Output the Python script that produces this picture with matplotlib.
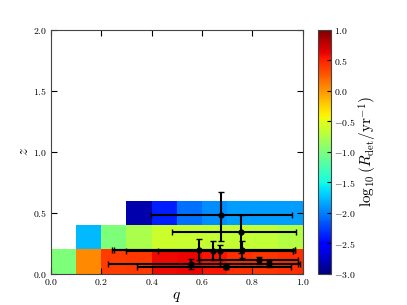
import matplotlib
matplotlib.use('Agg')
import matplotlib.pyplot as plt
import numpy as np
from matplotlib.ticker import FuncFormatter

plt.rcParams['mathtext.fontset'] = 'cm'
plt.rcParams['font.family'] = 'serif'
plt.rcParams['font.serif'] = ['DejaVu Serif']

# bin edges
q_edges = [0.0, 0.1, 0.2, 0.3, 0.4, 0.5, 0.6, 0.7, 0.8, 0.9, 1.0]
z_edges = [0.0, 0.2, 0.4, 0.6, 0.8, 1.0, 1.2, 1.4, 1.6, 1.8, 2.0]

# log10 detection rate per (z, q) bin, nan = empty
rate_z0 = [-1.0, 0.06, 0.38, 0.40, 0.60, 0.62, 0.55, 0.45, 0.42, 0.45]
rate_z1 = [np.nan, -1.78, -1.0, -0.78, -0.62, -0.64, -0.65, -0.65, -0.67, -0.72]
rate_z2 = [np.nan, np.nan, np.nan, -2.83, -2.38, -2.06, -1.94, -1.89, -1.89, -1.88]

# detected systems with error ranges
pts_q = [0.677, 0.754, 0.587, 0.644, 0.670, 0.757, 0.558, 0.694, 0.827, 0.864]
pts_z = [0.483, 0.340, 0.197, 0.190, 0.190, 0.197, 0.080, 0.058, 0.110, 0.085]
q_min = [0.396, 0.479, 0.241, 0.426, 0.300, 0.250, 0.227, 0.340, 0.588, 0.670]
q_max = [0.958, 0.972, 0.968, 0.960, 0.960, 0.970, 0.980, 0.955, 0.980, 0.988]
z_min = [0.266, 0.170, 0.115, 0.115, 0.115, 0.134, 0.044, 0.040, 0.080, 0.058]
z_max = [0.669, 0.486, 0.290, 0.266, 0.240, 0.266, 0.120, 0.075, 0.137, 0.107]

grid = np.full((len(z_edges) - 1, len(q_edges) - 1), np.nan)
grid[0] = rate_z0
grid[1] = rate_z1
grid[2] = rate_z2
grid = np.ma.masked_invalid(grid)

fig = plt.figure(figsize=(4.07, 3.05), dpi=100)
ax = fig.add_axes([0.125, 0.102, 0.619, 0.80])
cax = fig.add_axes([0.781, 0.102, 0.032, 0.80])

mesh = ax.pcolormesh(q_edges, z_edges, grid, cmap='jet', vmin=-3, vmax=1)

pq = np.array(pts_q)
pz = np.array(pts_z)
xerr = [pq - np.array(q_min), np.array(q_max) - pq]
yerr = [pz - np.array(z_min), np.array(z_max) - pz]
ax.errorbar(pq, pz, xerr=xerr, yerr=yerr, fmt='o', color='k', ms=3.5,
            elinewidth=1.5, capsize=2.5, capthick=1.0)

ax.set_xlim(0, 1)
ax.set_ylim(0, 2)
ax.set_xticks(np.arange(0, 1.01, 0.2))
ax.set_yticks(np.arange(0, 2.01, 0.5))
fmt = FuncFormatter(lambda v, p: r'$%.1f$' % v)
ax.xaxis.set_major_formatter(fmt)
ax.yaxis.set_major_formatter(fmt)
ax.tick_params(direction='in', top=True, right=True, labelsize=7, length=4, pad=2.5)
ax.set_xlabel(r'$q$', fontsize=11, labelpad=2)
ax.set_ylabel(r'$z$', fontsize=11, labelpad=2)
for s in ax.spines.values():
    s.set_color('#444444')

cb = fig.colorbar(mesh, cax=cax, ticks=np.arange(-3, 1.01, 0.5))
cb.ax.yaxis.set_major_formatter(fmt)
cb.ax.tick_params(direction='in', labelsize=7, length=3, pad=2)
cb.set_label(r'$\log_{10}(R_{\rm det}/{\rm yr}^{-1})$', fontsize=11, labelpad=1)
cb.outline.set_edgecolor('#444444')

fig.savefig('out.png', dpi=100)
